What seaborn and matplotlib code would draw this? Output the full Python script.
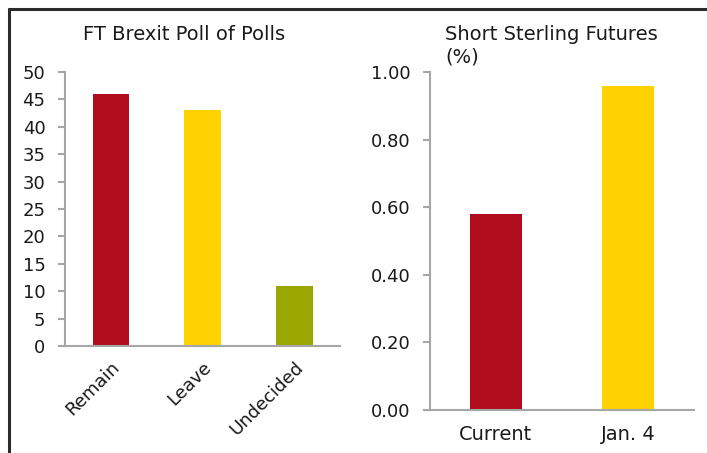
import matplotlib
matplotlib.use("Agg")
import matplotlib.pyplot as plt
import seaborn as sns
import pandas as pd
from matplotlib.ticker import FixedLocator, MultipleLocator, FormatStrFormatter

# Data
poll_categories = ["Remain", "Leave", "Undecided"]
poll_values = [46, 43, 11]
poll_colors = ["#B00C1E", "#FFD200", "#99A700"]

futures_categories = ["Current", "Jan. 4"]
futures_values = [0.58, 0.96]
futures_colors = ["#B00C1E", "#FFD200"]

left_title = "FT Brexit Poll of Polls"
right_title_lines = ["Short Sterling Futures", "(%)"]

sns.set_theme(style="white")
plt.rcParams['font.family'] = ['DejaVu Sans']

fig = plt.figure(figsize=(7.07, 4.53), dpi=100)
W, H = 707, 453

def ax_rect(x0, x1, ytop, ybot):
    return [x0 / W, 1 - ybot / H, (x1 - x0) / W, (ybot - ytop) / H]

axL = fig.add_axes(ax_rect(65, 340, 72, 346))
axR = fig.add_axes(ax_rect(430, 694, 72, 410))

spine_col = "#A6A6A6"
txt_col = "#1A1A1A"
fs_tick = 13
fs_title = 14

df1 = pd.DataFrame({"cat": poll_categories, "val": poll_values})
sns.barplot(data=df1, x="cat", y="val", hue="cat", palette=poll_colors,
            legend=False, width=0.4, ax=axL, saturation=1, linewidth=0)
df2 = pd.DataFrame({"cat": futures_categories, "val": futures_values})
sns.barplot(data=df2, x="cat", y="val", hue="cat", palette=futures_colors,
            legend=False, width=0.4, ax=axR, saturation=1, linewidth=0)

for ax, n in ((axL, 3), (axR, 2)):
    ax.set_xlim(-0.5, n - 0.5)
    ax.set_xlabel("")
    ax.set_ylabel("")
    for s in ("top", "right"):
        ax.spines[s].set_visible(False)
    for s in ("left", "bottom"):
        ax.spines[s].set_color(spine_col)
        ax.spines[s].set_linewidth(1.5)
    ax.xaxis.set_minor_locator(FixedLocator([i - 0.5 for i in range(n + 1)]))
    ax.tick_params(axis="x", which="major", length=0, colors=txt_col)
    ax.tick_params(axis="x", which="minor", length=5, width=1.5, color=spine_col, direction="out")
    ax.tick_params(axis="y", length=5, width=1.5, color=spine_col, direction="out",
                   labelsize=fs_tick, labelcolor=txt_col, left=True, pad=9)

axL.set_ylim(0, 50)
axL.yaxis.set_major_locator(MultipleLocator(5))
axL.set_xticks(range(3))
axL.set_xticklabels(poll_categories, rotation=45, ha="right", rotation_mode="anchor")
axL.tick_params(axis="x", which="major", pad=9, labelsize=fs_tick)

axR.set_ylim(0, 1.0)
axR.yaxis.set_major_locator(MultipleLocator(0.2))
axR.yaxis.set_major_formatter(FormatStrFormatter("%.2f"))
axR.set_xticks(range(2))
axR.set_xticklabels(futures_categories)
axR.tick_params(axis="x", which="major", pad=11, labelsize=14)

fig.text(83 / W, 1 - 35 / H, left_title, fontsize=fs_title, color=txt_col, va="center", ha="left")
fig.text(445 / W, 1 - 35 / H, right_title_lines[0], fontsize=fs_title, color=txt_col,
         va="center", ha="left")
fig.text(445 / W, 1 - 57 / H, right_title_lines[1], fontsize=fs_title, color=txt_col,
         va="center", ha="left")

# outer frame
fig.add_artist(plt.Line2D([9 / W, 9 / W], [0, 1 - 9 / H], transform=fig.transFigure,
                          color="#2B2B2B", lw=2.2))
fig.add_artist(plt.Line2D([9 / W, 1], [1 - 9 / H, 1 - 9 / H], transform=fig.transFigure,
                          color="#2B2B2B", lw=2.2))

fig.savefig("out.png", dpi=100)
